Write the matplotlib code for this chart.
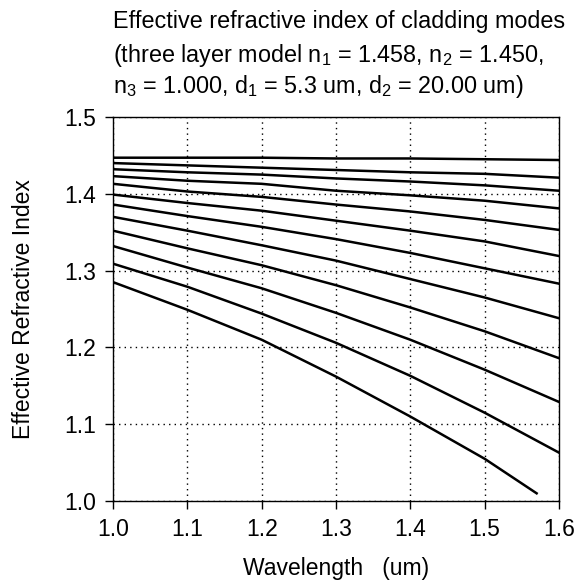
import matplotlib
matplotlib.use("Agg")
import matplotlib.pyplot as plt

# fonts close to Arial, and mathtext in the same family for the subscripts
plt.rcParams['font.family'] = ['Liberation Sans', 'DejaVu Sans']
plt.rcParams['mathtext.fontset'] = 'custom'
plt.rcParams['mathtext.rm'] = 'Liberation Sans'
plt.rcParams['mathtext.it'] = 'Liberation Sans'

wavelength = [1.0, 1.1, 1.2, 1.3, 1.4, 1.5, 1.6]

# effective index of each cladding mode, top curve first
mode_1 = [1.447, 1.447, 1.447, 1.446, 1.446, 1.445, 1.444]
mode_2 = [1.440, 1.437, 1.434, 1.431, 1.428, 1.426, 1.421]
mode_3 = [1.432, 1.428, 1.425, 1.420, 1.416, 1.411, 1.404]
mode_4 = [1.423, 1.417, 1.413, 1.404, 1.398, 1.391, 1.381]
mode_5 = [1.413, 1.403, 1.396, 1.386, 1.377, 1.366, 1.353]
mode_6 = [1.399, 1.388, 1.378, 1.365, 1.352, 1.338, 1.319]
mode_7 = [1.386, 1.371, 1.357, 1.341, 1.323, 1.303, 1.283]
mode_8 = [1.370, 1.352, 1.333, 1.313, 1.289, 1.265, 1.238]
mode_9 = [1.352, 1.329, 1.307, 1.281, 1.252, 1.221, 1.186]
mode_10 = [1.332, 1.304, 1.277, 1.245, 1.210, 1.171, 1.129]
mode_11 = [1.309, 1.279, 1.244, 1.206, 1.163, 1.115, 1.063]

# last mode stops before 1.6
wavelength_12 = [1.0, 1.1, 1.2, 1.3, 1.4, 1.5, 1.57]
mode_12 = [1.285, 1.249, 1.210, 1.162, 1.110, 1.055, 1.010]

modes = [mode_1, mode_2, mode_3, mode_4, mode_5, mode_6,
         mode_7, mode_8, mode_9, mode_10, mode_11]

fig = plt.figure(figsize=(5.78, 5.85), dpi=100)
ax = fig.add_axes([0.1955, 0.1436, 0.7715, 0.6564])

for m in modes:
    ax.plot(wavelength, m, color='black', lw=1.8)
ax.plot(wavelength_12, mode_12, color='black', lw=1.8)

ax.set_xlim(1.0, 1.6)
ax.set_ylim(1.0, 1.5)
ax.set_xticks([1.0, 1.1, 1.2, 1.3, 1.4, 1.5, 1.6])
ax.set_yticks([1.0, 1.1, 1.2, 1.3, 1.4, 1.5])
ax.set_xticklabels(['1.0', '1.1', '1.2', '1.3', '1.4', '1.5', '1.6'])
ax.set_yticklabels(['1.0', '1.1', '1.2', '1.3', '1.4', '1.5'])
ax.tick_params(direction='out', length=6, width=1, labelsize=16.5, pad=6, colors='black')

# dotted grid
ax.grid(True, linestyle=(0, (1, 3)), color='black', lw=1)

for s in ax.spines.values():
    s.set_color('black')
    s.set_linewidth(1)

ax.set_xlabel('Wavelength   (um)', fontsize=16.5, labelpad=12)
ax.set_ylabel('Effective Refractive Index', fontsize=16.5, labelpad=21)

# title lines, left aligned with the axes
fig.text(113 / 578, 1 - 28 / 585, 'Effective refractive index of cladding modes',
         fontsize=16.8, ha='left', va='baseline')
fig.text(113 / 578, 1 - 62 / 585, '(three layer model n$_1$ = 1.458, n$_2$ = 1.450,',
         fontsize=16.8, ha='left', va='baseline')
fig.text(113 / 578, 1 - 93 / 585, 'n$_3$ = 1.000, d$_1$ = 5.3 um, d$_2$ = 20.00 um)',
         fontsize=16.8, ha='left', va='baseline')

plt.savefig('out.png', dpi=100)
